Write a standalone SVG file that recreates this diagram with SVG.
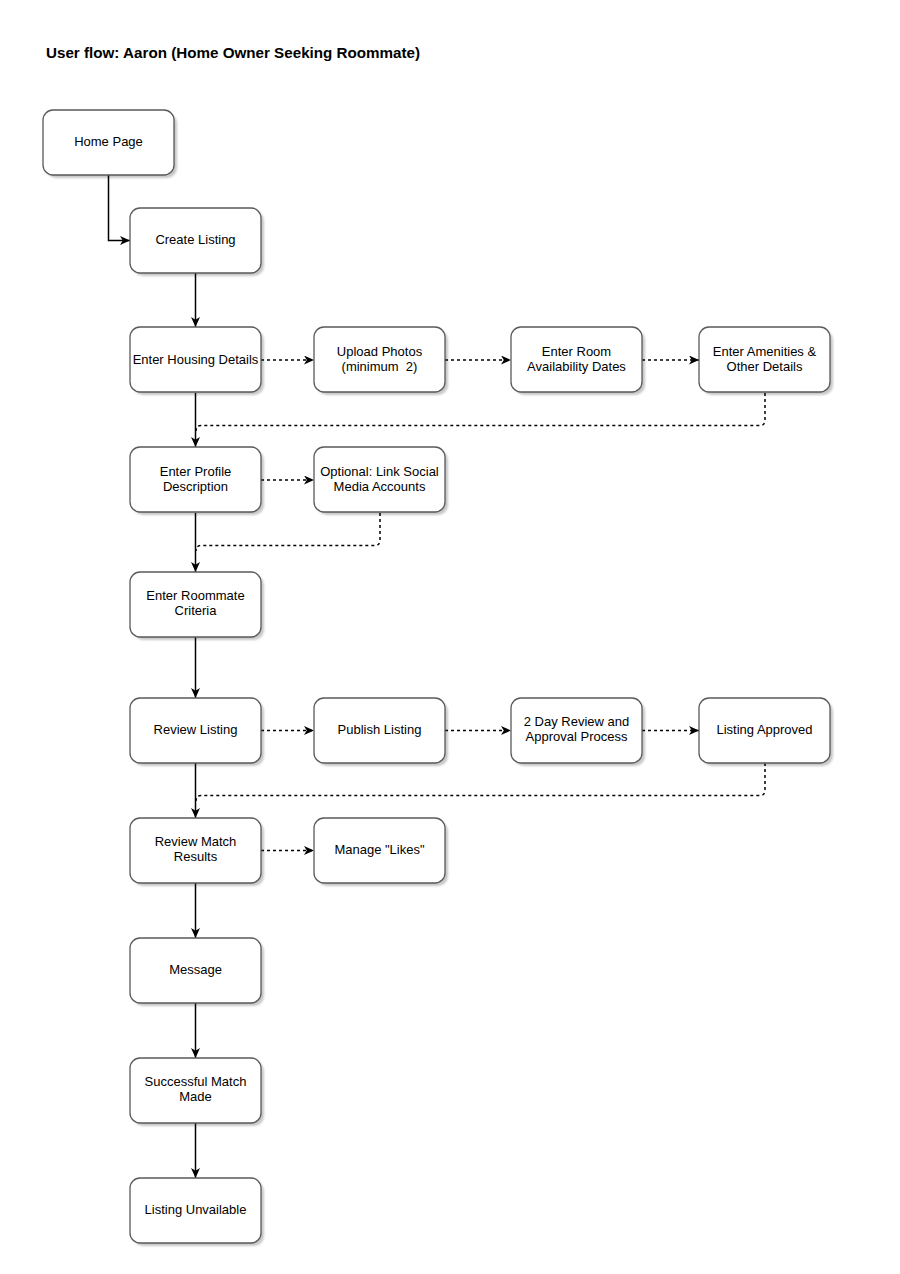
<svg xmlns="http://www.w3.org/2000/svg" width="900" height="1274" viewBox="0 0 900 1274">
<style>
  .bg { fill: #ffffff; }
  .box { fill: #ffffff; stroke: #5a5a5a; stroke-width: 1.3; }
  .shadow { fill: #000000; opacity: 0.22; filter: url(#blur); }
  .lbl { font-family: "Liberation Sans", Arial, Helvetica, sans-serif; font-size: 13px; fill: #000000; text-anchor: middle; white-space: pre; }
  .title { font-family: "Liberation Sans", Arial, Helvetica, sans-serif; font-size: 15.2px; font-weight: bold; fill: #000000; }
  .solid { fill: none; stroke: #000000; stroke-width: 1.5; }
  .dash { fill: none; stroke: #000000; stroke-width: 1.5; stroke-dasharray: 3 3; }
</style>
<defs>
  <filter id="blur" x="-10%" y="-10%" width="130%" height="130%">
    <feGaussianBlur stdDeviation="1.2"/>
  </filter>
  <marker id="arr" viewBox="0 0 10 9" refX="10" refY="4.5" markerWidth="10" markerHeight="9" markerUnits="userSpaceOnUse" orient="auto">
    <path d="M0,0 L10,4.5 L0,9 L2.8,4.5 z" fill="#000000"/>
  </marker>
  <symbol id="node" overflow="visible">
    <rect class="shadow" x="3" y="3" width="131" height="65" rx="10" ry="10"/>
    <rect class="box" x="0" y="0" width="131" height="65" rx="10" ry="10"/>
  </symbol>
</defs>
<rect class="bg" x="0" y="0" width="900" height="1274"/>
<text class="title" x="46" y="58">User flow: Aaron (Home Owner Seeking Roommate)</text>

<g id="connectors">
  <path class="solid" d="M108.5,175 V240.5 H130" marker-end="url(#arr)"/>
  <path class="solid" d="M195.5,273 V327" marker-end="url(#arr)"/>
  <path class="solid" d="M195.5,393 V447" marker-end="url(#arr)"/>
  <path class="solid" d="M195.5,513 V572" marker-end="url(#arr)"/>
  <path class="solid" d="M195.5,637 V698" marker-end="url(#arr)"/>
  <path class="solid" d="M195.5,763 V818" marker-end="url(#arr)"/>
  <path class="solid" d="M195.5,883 V938" marker-end="url(#arr)"/>
  <path class="solid" d="M195.5,1003 V1058" marker-end="url(#arr)"/>
  <path class="solid" d="M195.5,1123 V1178" marker-end="url(#arr)"/>

  <path class="dash" d="M261,360 H314" marker-end="url(#arr)"/>
  <path class="dash" d="M445,360 H511" marker-end="url(#arr)"/>
  <path class="dash" d="M642,360 H699" marker-end="url(#arr)"/>
  <path class="dash" d="M765,393 V420 Q765,425.5 760,425.5 H201 Q196,425.5 196,431"/>

  <path class="dash" d="M261,480 H314" marker-end="url(#arr)"/>
  <path class="dash" d="M380,513 V540 Q380,545.5 375,545.5 H201 Q196,545.5 196,551"/>

  <path class="dash" d="M261,730.5 H314" marker-end="url(#arr)"/>
  <path class="dash" d="M445,730.5 H511" marker-end="url(#arr)"/>
  <path class="dash" d="M642,730.5 H699" marker-end="url(#arr)"/>
  <path class="dash" d="M765,763 V790 Q765,795.5 760,795.5 H201 Q196,795.5 196,801"/>

  <path class="dash" d="M261,850.5 H314" marker-end="url(#arr)"/>
</g>

<g id="home"><use href="#node" x="43" y="110"/><text class="lbl" x="108.5" y="145.5">Home Page</text></g>
<g id="create"><use href="#node" x="130" y="208"/><text class="lbl" x="195.5" y="244">Create Listing</text></g>
<g id="housing"><use href="#node" x="130" y="327"/><text class="lbl" x="195.5" y="363.5">Enter Housing Details</text></g>
<g id="photos"><use href="#node" x="314" y="327"/><text class="lbl" x="379.5" y="355.5">Upload Photos</text><text class="lbl" x="379.5" y="370.5">(minimum  2)</text></g>
<g id="dates"><use href="#node" x="511" y="327"/><text class="lbl" x="576.5" y="355.5">Enter Room</text><text class="lbl" x="576.5" y="370.5">Availability Dates</text></g>
<g id="amenities"><use href="#node" x="699" y="327"/><text class="lbl" x="764.5" y="355.5">Enter Amenities &amp;</text><text class="lbl" x="764.5" y="370.5">Other Details</text></g>
<g id="profile"><use href="#node" x="130" y="447"/><text class="lbl" x="195.5" y="475.5">Enter Profile</text><text class="lbl" x="195.5" y="490.5">Description</text></g>
<g id="social"><use href="#node" x="314" y="447"/><text class="lbl" x="379.5" y="475.5">Optional: Link Social</text><text class="lbl" x="379.5" y="490.5">Media Accounts</text></g>
<g id="criteria"><use href="#node" x="130" y="572"/><text class="lbl" x="195.5" y="599.5">Enter Roommate</text><text class="lbl" x="195.5" y="614.5">Criteria</text></g>
<g id="review"><use href="#node" x="130" y="698"/><text class="lbl" x="195.5" y="734">Review Listing</text></g>
<g id="publish"><use href="#node" x="314" y="698"/><text class="lbl" x="379.5" y="734">Publish Listing</text></g>
<g id="approval"><use href="#node" x="511" y="698"/><text class="lbl" x="576.5" y="726">2 Day Review and</text><text class="lbl" x="576.5" y="741">Approval Process</text></g>
<g id="approved"><use href="#node" x="699" y="698"/><text class="lbl" x="764.5" y="734">Listing Approved</text></g>
<g id="match"><use href="#node" x="130" y="818"/><text class="lbl" x="195.5" y="845.5">Review Match</text><text class="lbl" x="195.5" y="860.5">Results</text></g>
<g id="likes"><use href="#node" x="314" y="818"/><text class="lbl" x="379.5" y="854">Manage "Likes"</text></g>
<g id="message"><use href="#node" x="130" y="938"/><text class="lbl" x="195.5" y="974">Message</text></g>
<g id="success"><use href="#node" x="130" y="1058"/><text class="lbl" x="195.5" y="1085.5">Successful Match</text><text class="lbl" x="195.5" y="1100.5">Made</text></g>
<g id="unavail"><use href="#node" x="130" y="1178"/><text class="lbl" x="195.5" y="1214">Listing Unvailable</text></g>
</svg>
